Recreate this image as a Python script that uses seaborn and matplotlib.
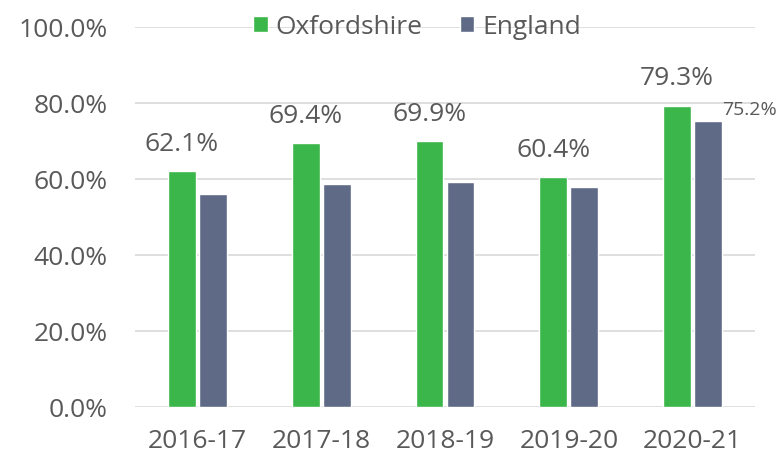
import matplotlib
matplotlib.use("Agg")
import matplotlib.pyplot as plt
import seaborn as sns
import pandas as pd

years = ["2016-17", "2017-18", "2018-19", "2019-20", "2020-21"]
oxfordshire = [62.1, 69.4, 69.9, 60.4, 79.3]
england = [56.0, 58.7, 59.3, 57.8, 75.2]
series_names = ["Oxfordshire", "England"]
y_ticks = [0, 20, 40, 60, 80, 100]

colors = {"Oxfordshire": "#3BB64A", "England": "#5F6A86"}
text_grey = "#595959"

df = pd.DataFrame({
    "Year": years * 2,
    "Value": oxfordshire + england,
    "Area": [series_names[0]] * len(years) + [series_names[1]] * len(years),
})

sns.set_theme(style="white")
plt.rcParams["font.family"] = ["Open Sans", "DejaVu Sans"]

fig = plt.figure(figsize=(7.82, 4.64), dpi=100)
ax = fig.add_axes([0.173, 0.121, 0.792, 0.819])

sns.barplot(data=df, x="Year", y="Value", hue="Area", order=years,
            hue_order=series_names, palette=colors, saturation=1,
            width=0.5, gap=0.1, errorbar=None, ax=ax, legend=True, zorder=3)

ax.set_ylim(0, 100)
ax.set_xlim(-0.5, len(years) - 0.5)
ax.set_yticks(y_ticks)
ax.set_yticklabels([f"{t:.1f}%" for t in y_ticks], fontsize=19, color=text_grey)
ax.tick_params(axis="x", labelsize=19, labelcolor=text_grey, length=0, pad=15)
ax.tick_params(axis="y", length=0, pad=20)
ax.yaxis.grid(True, color="#D9D9D9", linewidth=1.2, zorder=0)
ax.set_axisbelow(True)
for s in ax.spines.values():
    s.set_visible(False)
ax.set_xlabel("")
ax.set_ylabel("")

# value labels: Oxfordshire above each bar, England only for the latest year
ox_bars = ax.containers[0]
en_bars = ax.containers[1]
for bar, v in zip(ox_bars, oxfordshire):
    ax.annotate(f"{v:.1f}%", (bar.get_x() + bar.get_width() / 2, v),
                xytext=(0, 20), textcoords="offset points",
                ha="center", va="center", fontsize=19, color=text_grey)
last = en_bars[-1]
ax.annotate(f"{england[-1]:.1f}%", (last.get_x() + last.get_width(), england[-1]),
            xytext=(0, 9), textcoords="offset points",
            ha="left", va="center", fontsize=14, color=text_grey)

ax.legend(loc="center", bbox_to_anchor=(0.455, 1.0), ncol=2, frameon=False,
          fontsize=19, handlelength=0.55, handleheight=0.55, handletextpad=0.3,
          columnspacing=1.4, labelcolor=text_grey, borderaxespad=0)

fig.savefig("out.png", dpi=100)
